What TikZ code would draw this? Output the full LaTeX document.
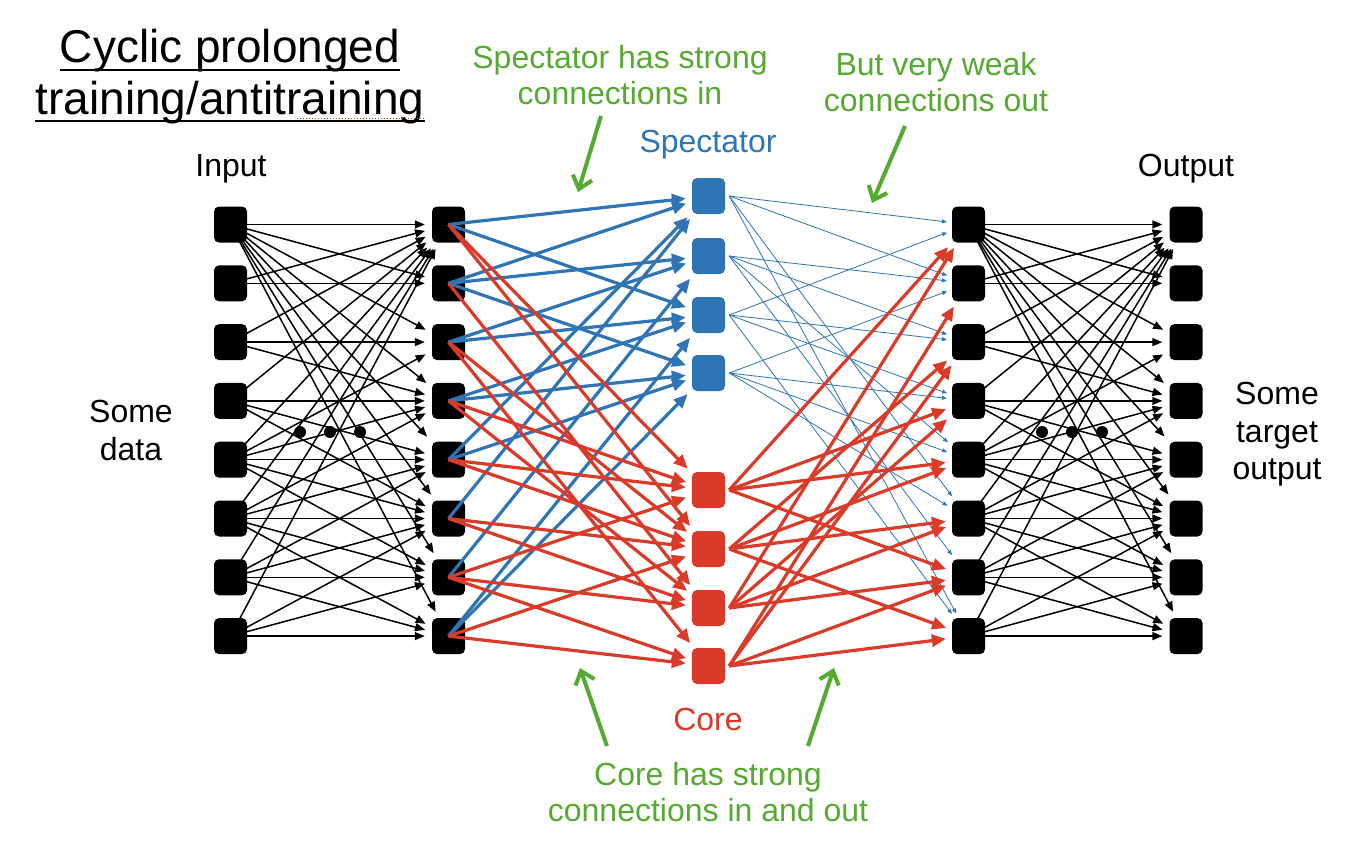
\documentclass[tikz,border=0pt]{standalone}
\usepackage{fontspec}
\setmainfont{Liberation Sans}
\usetikzlibrary{arrows.meta}
\definecolor{kblue}{RGB}{47,117,181}
\definecolor{kred}{RGB}{218,58,40}
\definecolor{kgreen}{RGB}{86,170,50}
\pgfdeclarelayer{bg}
\pgfsetlayers{bg,main}
\begin{document}
\begin{tikzpicture}[x=1pt,y=-1pt,
  unit/.style={rounded corners=5pt, minimum width=33pt, minimum height=36pt, inner sep=0pt, fill=#1, draw=none},
  blk/.style={line width=1.5pt, -{Triangle[length=10pt,width=8pt]}, shorten >=7pt},
  ble/.style={kblue, line width=3.2pt, -{Triangle[length=14pt,width=12pt]}, shorten >=6pt},
  rde/.style={kred, line width=3.2pt, -{Triangle[length=14pt,width=12pt]}, shorten >=6pt},
  thn/.style={kblue, line width=0.8pt, -{Triangle[length=5pt,width=4pt]}, shorten >=5pt},
  lbl/.style={font=\fontsize{32}{37}\selectfont, inner sep=0pt, anchor=base},
  ttl/.style={font=\fontsize{46}{52}\selectfont, inner sep=0pt, anchor=base},
  garrow/.style={kgreen, line width=4pt, -{Straight Barb[length=12pt,width=20pt,line width=4pt]}},
  dotn/.style={circle, fill=black, inner sep=0pt, minimum size=12pt}]
\useasboundingbox (0,0) rectangle (1370,848);

% nodes
\foreach \i in {1,...,8}{
  \pgfmathsetmacro{\yy}{224.5+58.8*(\i-1)}
  \node[unit=black] (a\i) at (230.5,\yy) {};
  \node[unit=black] (b\i) at (448.5,\yy) {};
  \node[unit=black] (d\i) at (968.5,\yy) {};
  \node[unit=black] (e\i) at (1186,\yy) {};
}
\foreach \i/\yy in {1/196,2/256,3/315,4/373}{
  \node[unit=kblue] (s\i) at (708.5,\yy) {};
}
\foreach \i/\yy in {1/490,2/549,3/608,4/666}{
  \node[unit=kred] (c\i) at (708.5,\yy) {};
}

% black connections (input side and output side)
\begin{pgfonlayer}{bg}
\fill[white] (0,0) rectangle (1370,848);
\foreach \i/\j in {1/1,1/2,1/3,1/4,1/5,1/6,1/7,1/8,
                   2/1,2/2,
                   3/1,3/3,3/4,
                   4/1,4/4,4/5,4/6,
                   5/1,5/3,5/4,5/5,5/6,5/7,
                   6/1,6/4,6/5,6/6,6/7,6/8,
                   7/1,7/5,7/6,7/7,7/8,
                   8/1,8/6,8/7,8/8}{
  \draw[blk] (a\i.center) -- (b\j);
  \draw[blk] (d\i.center) -- (e\j);
}
\end{pgfonlayer}

% dots
\node[dotn] (p1) at (300,432) {};
\node[dotn] (p2) at (330,432) {};
\node[dotn] (p3) at (360,432) {};
\node[dotn] (q1) at (1042,432) {};
\node[dotn] (q2) at (1072,432) {};
\node[dotn] (q3) at (1102,432) {};

% layer 2 -> spectator (blue)
\foreach \i/\j in {1/1,1/3,2/1,2/2,2/4,3/2,3/3,4/3,4/4,5/1,5/4,6/1,7/2,8/3,8/4}{
  \draw[ble] (b\i.center) -- (s\j);
}
% layer 2 -> core (red)
\foreach \i/\j in {1/1,1/2,2/3,3/2,3/4,4/1,4/3,5/1,5/2,6/2,6/3,7/1,7/3,7/4,8/2,8/4}{
  \draw[rde] (b\i.center) -- (c\j);
}
% spectator -> layer 4 (thin blue)
\foreach \i/\j in {1/1,1/2,1/6,1/8,2/2,2/3,2/5,2/7,3/1,3/3,3/4,3/8,4/2,4/4,4/5,4/6}{
  \draw[thn] ([xshift=4pt]s\i.east) -- (d\j);
}
% core -> layer 4 (red)
\foreach \i/\j in {1/1,1/4,1/5,1/7,2/3,2/5,2/6,2/8,3/1,3/4,3/6,3/7,4/2,4/3,4/7,4/8}{
  \draw[rde] ([xshift=4pt]c\i.east) -- (d\j);
}

% title
\node[ttl] (t1) at (230,63) {Cyclic prolonged};
\node[ttl] (t2) at (230,114) {training/antitraining};
\draw[line width=2pt] ([yshift=-7pt]t1.base west) -- ([yshift=-7pt]t1.base east);
\draw[line width=2pt] ([yshift=-7pt]t2.base west) -- ([yshift=-7pt]t2.base east);
\draw[kred, line width=1pt, dotted] (297,119) -- ([yshift=-5pt]t2.base east);

% labels
\node[lbl] (inp) at (231,176) {Input};
\node[lbl] (outp) at (1186,176) {Output};
\node[lbl] (sd1) at (131,422) {Some};
\node[lbl] (sd2) at (131,460) {data};
\node[lbl] (st1) at (1277,404) {Some};
\node[lbl] (st2) at (1277,442) {target};
\node[lbl] (st3) at (1277,479) {output};
\node[lbl, text=kblue] (spec) at (708,152) {Spectator};
\node[lbl, text=kred] (core) at (708,730) {Core};
\node[lbl, text=kgreen] (g1a) at (620,69) {Spectator has strong};
\node[lbl, text=kgreen] (g1b) at (620,105) {connections in};
\node[lbl, text=kgreen] (g2a) at (936,76) {But very weak};
\node[lbl, text=kgreen] (g2b) at (936,112) {connections out};
\node[lbl, text=kgreen] (g3a) at (708,785) {Core has strong};
\node[lbl, text=kgreen] (g3b) at (708,821) {connections in and out};

% green arrows
\coordinate (ga1s) at (601,116); \coordinate (ga1e) at (578,192);
\coordinate (ga2s) at (905,126); \coordinate (ga2e) at (872,203);
\coordinate (ga3s) at (607,746); \coordinate (ga3e) at (580,668);
\coordinate (ga4s) at (808,746); \coordinate (ga4e) at (834,668);
\draw[garrow] (ga1s) -- (ga1e);
\draw[garrow] (ga2s) -- (ga2e);
\draw[garrow] (ga3s) -- (ga3e);
\draw[garrow] (ga4s) -- (ga4e);
\end{tikzpicture}
\end{document}
